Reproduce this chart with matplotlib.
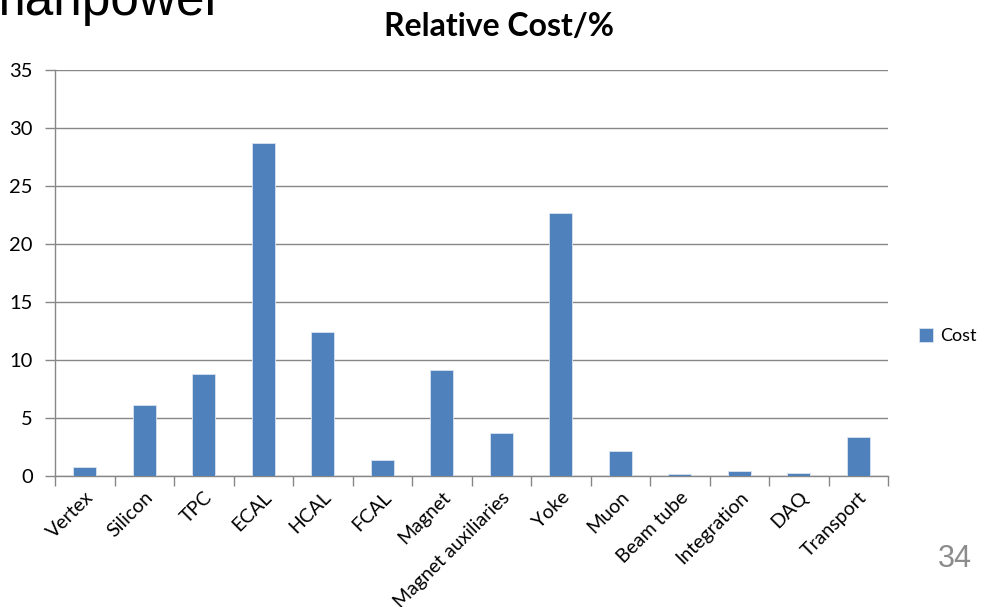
import numpy as np
import matplotlib.pyplot as plt

# data
categories = ["Vertex", "Silicon", "TPC", "ECAL", "HCAL", "FCAL", "Magnet",
              "Magnet auxiliaries", "Yoke", "Muon", "Beam tube", "Integration",
              "DAQ", "Transport"]
cost = [0.75, 6.1, 8.8, 28.7, 12.4, 1.35, 9.1, 3.7, 22.7, 2.15, 0.17, 0.45, 0.3, 3.35]
y_ticks = [0, 5, 10, 15, 20, 25, 30, 35]

FONT = ["Lato", "DejaVu Sans"]
GRID = "#878787"
BLUE = "#4F81BD"

fig = plt.figure(figsize=(9.86, 6.07), dpi=100)
ax = fig.add_axes([55 / 986, 1 - 476 / 607, (888 - 55) / 986, (476 - 70) / 607])

x = np.arange(len(categories))
ax.bar(x, cost, width=0.39, color=BLUE, edgecolor="#dbe4f0", linewidth=0.6,
       label="Cost", zorder=3)

ax.set_xlim(-0.5, len(categories) - 0.5)
ax.set_ylim(0, 35)
ax.set_yticks(y_ticks)
ax.yaxis.grid(True, color=GRID, linewidth=1.0, zorder=0)

# category labels at centres, tick marks at boundaries
ax.set_xticks(x)
ax.set_xticklabels(categories, rotation=45, ha="right", va="top",
                   rotation_mode="anchor", family=FONT, fontsize=14)
ax.set_xticks(np.arange(len(categories) + 1) - 0.5, minor=True)
ax.tick_params(axis="x", which="major", length=0, pad=9)
ax.tick_params(axis="x", which="minor", length=7, color=GRID, width=1.0)
ax.tick_params(axis="y", length=7, color=GRID, width=1.0, pad=9)
for lbl in ax.get_yticklabels():
    lbl.set_family(FONT)
    lbl.set_fontsize(14.5)

for side in ["top", "right"]:
    ax.spines[side].set_visible(False)
for side in ["left", "bottom"]:
    ax.spines[side].set_color(GRID)
    ax.spines[side].set_linewidth(1.0)

fig.text(499 / 986, 1 - 26 / 607, "Relative Cost/%", ha="center", va="center",
         family=FONT, fontweight="bold", fontsize=23)

fig.legend(loc="center left", bbox_to_anchor=(919 / 986, 1 - 336 / 607),
           frameon=False, prop={"family": FONT, "size": 13},
           handlelength=0.8, handleheight=0.8, handletextpad=0.35,
           borderpad=0, borderaxespad=0)

# slide leftovers
fig.text(-17 / 986, 1 - 15 / 607, "manpower", ha="left", va="baseline",
         family=["Liberation Sans"], fontsize=37, color="black")
fig.text(972 / 986, 1 - 567 / 607, "34", ha="right", va="baseline",
         family=["Liberation Sans"], fontsize=22, color="#8c8c8c")

fig.savefig("out.png", dpi=100)
